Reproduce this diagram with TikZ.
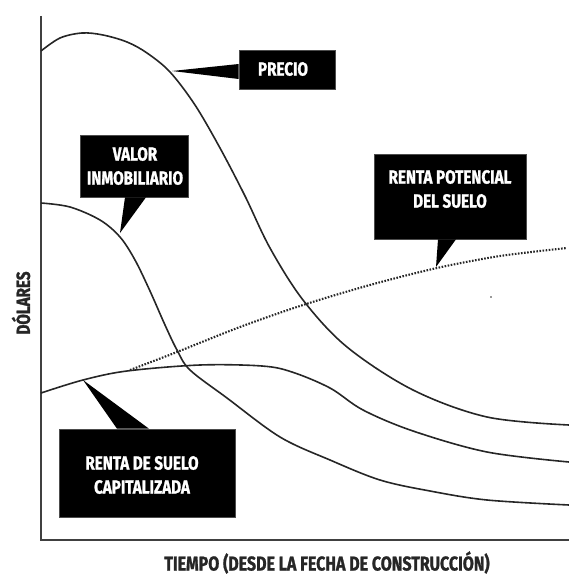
\documentclass[tikz,border=0pt]{standalone}
\usepackage{fontspec}
\setmainfont{Fira Sans}[FakeStretch=0.8, BoldFeatures={FakeBold=1.2}]
\begin{document}
\begin{tikzpicture}[x=1pt,y=-1pt,
  curve/.style={line width=1.6pt, black!85, line join=round},
  axisline/.style={line width=2pt, black!75},
  callout/.style={fill=black, draw=black!70, line width=0.6pt, inner sep=0pt},
  labeltext/.style={text=white, font=\fontsize{19}{24}\selectfont\bfseries, align=center, inner sep=0pt},
  axislabel/.style={text=black!85, font=\fontsize{19}{24}\selectfont\bfseries, inner sep=0pt}]
\useasboundingbox (0,0) rectangle (569,575);

% axes
\coordinate (otop) at (41,16);
\coordinate (ocorner) at (41,540);
\coordinate (oright) at (569,540);
\draw[axisline] (otop) -- (ocorner) -- (oright);

% curves
\draw[curve] plot[smooth, tension=0.55] coordinates {(41,51) (60,38) (82,33) (103,35) (127,42) (147,53) (170,72) (195,105) (220,148) (245,196) (270,248) (303,300) (347,347) (413,390) (487,417) (569,425)};
\draw[curve] plot[smooth, tension=0.55] coordinates {(41,203) (70,207) (100,220) (120,237) (135,260) (150,291) (165,325) (177,350) (190,370) (227,398) (280,437) (330,460) (380,480) (430,491) (487,500) (569,505)};
\draw[curve] plot[smooth, tension=0.55] coordinates {(41,393) (83,380) (127,371) (200,365) (262,366) (292,372) (330,388) (363,410) (413,431) (487,452) (569,462)};
\draw[line width=2.1pt, black!85, dash pattern=on 1.6pt off 1.5pt] plot[smooth, tension=0.5] coordinates {(130,370) (177,352) (240,327) (303,305) (370,285) (437,268) (500,256) (567,248)};
\fill[black!80] (491,297) circle (0.9);

% callout boxes
\node[callout, minimum width=96pt, minimum height=39pt] (precio) at (287,69.5) {};
\node[callout, minimum width=108pt, minimum height=62pt] (valor) at (134,166) {};
\node[callout, minimum width=152pt, minimum height=85pt] (potencial) at (450,196.5) {};
\node[callout, minimum width=176pt, minimum height=88pt] (suelo) at (147,473) {};

% pointer tips
\coordinate (tprecio) at (172,71);
\coordinate (tvalor) at (120,233);
\coordinate (tpot) at (436,267);
\coordinate (tsuelo) at (83,380);
\fill[black] ([yshift=5.5pt]precio.west) -- (tprecio) -- ([yshift=-9.5pt]precio.west) -- cycle;
\fill[black] ([xshift=-9pt]valor.south) -- (tvalor) -- ([xshift=12pt]valor.south) -- cycle;
\fill[black] ([xshift=-12pt]potencial.south) -- (tpot) -- ([xshift=6pt]potencial.south) -- cycle;
\fill[black] ([xshift=-30pt]suelo.north) -- (tsuelo) -- ([xshift=2pt]suelo.north) -- cycle;

% texts
\node[labeltext] (tprec) at (283,69) {PRECIO};
\node[labeltext] (tval) at (135,166) {VALOR\\INMOBILIARIO};
\node[labeltext] (tpotx) at (450,189) {RENTA POTENCIAL\\DEL SUELO};
\node[labeltext] (tsue) at (142,475) {RENTA DE SUELO\\CAPITALIZADA};

\node[axislabel, rotate=90] (ylab) at (21,303) {DÓLARES};
\node[axislabel, font=\fontsize{20}{24}\selectfont\bfseries, anchor=base] (xlab) at (327,570.5) {TIEMPO (DESDE LA FECHA DE CONSTRUCCIÓN)};
\end{tikzpicture}
\end{document}
